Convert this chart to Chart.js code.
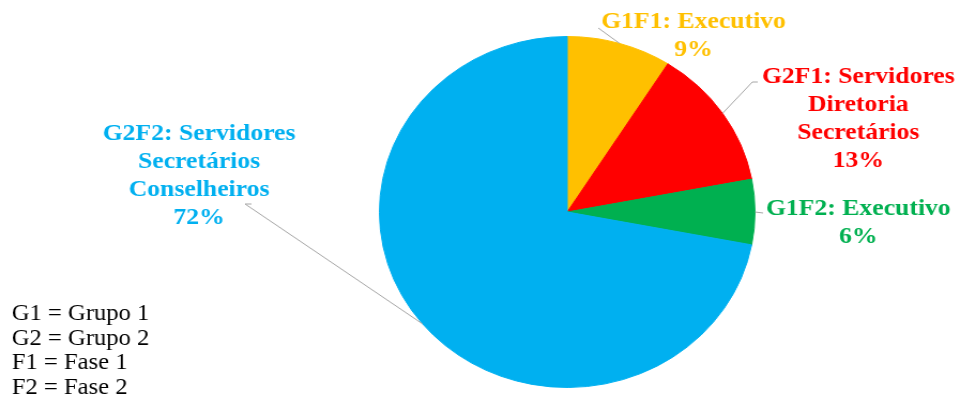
<!DOCTYPE html>
<html>
<head>
<meta charset="utf-8">
<script src="https://cdn.jsdelivr.net/npm/chart.js@4"></script>
<style>
  html, body { margin: 0; padding: 0; background: #fff; overflow: hidden; }
  /* the original picture is stretched a little sideways, so is ours */
  #wrap { position: absolute; left: 0; top: 0; width: 897px; height: 401px;
          transform: scaleX(1.0702); transform-origin: 0 0; }
</style>
</head>
<body>
<div id="wrap"><canvas id="myChart"></canvas></div>
<script>
/* Data */
const categories = ['G1F1: Executivo', 'G2F1: Servidores Diretoria Secretários', 'G1F2: Executivo', 'G2F2: Servidores Secretários Conselheiros'];
const labelLines = [
  ['G1F1: Executivo'],
  ['G2F1: Servidores', 'Diretoria', 'Secretários'],
  ['G1F2: Executivo'],
  ['G2F2: Servidores', 'Secretários', 'Conselheiros'],
];
const shares = [9, 13, 6, 72];
const notes = ['G1 = Grupo 1', 'G2 = Grupo 2', 'F1 = Fase 1', 'F2 = Fase 2'];

/* Colors */
let colorYellow = '#FFC000';
let colorRed = '#FF0000';
let colorGreen = '#00B050';
let colorBlue = '#00B0F0';
const sliceColors = [colorYellow, colorRed, colorGreen, colorBlue];

// where each data label sits (center x, first baseline) and where its leader line starts
const labelPlace = [
  { x: 648, y: 28, lead: [[559, 28]] },
  { x: 802, y: 83, lead: [[708, 82], [703, 82]] },
  { x: 802, y: 215, lead: [[713, 213]] },
  { x: 186, y: 140, lead: [[235, 204], [229, 204]] },
];

const pieLabels = {
  id: 'pieLabels',
  afterDraw(chart) {
    const ctx = chart.ctx;
    const arcs = chart.getDatasetMeta(0).data;
    const total = shares.reduce((a, b) => a + b, 0);
    ctx.save();
    arcs.forEach((arc, i) => {
      const p = labelPlace[i];
      const mid = (arc.startAngle + arc.endAngle) / 2;
      const ex = arc.x + Math.cos(mid) * arc.outerRadius;
      const ey = arc.y + Math.sin(mid) * arc.outerRadius;
      ctx.strokeStyle = '#A6A6A6';
      ctx.lineWidth = 1;
      ctx.beginPath();
      ctx.moveTo(p.lead[0][0], p.lead[0][1]);
      p.lead.slice(1).forEach(q => ctx.lineTo(q[0], q[1]));
      ctx.lineTo(ex, ey);
      ctx.stroke();

      ctx.fillStyle = sliceColors[i];
      ctx.font = 'bold 24px "Liberation Serif", serif';
      ctx.textAlign = 'center';
      ctx.textBaseline = 'alphabetic';
      const lines = labelLines[i].concat([Math.round(shares[i] / total * 100) + '%']);
      lines.forEach((t, k) => ctx.fillText(t, p.x, p.y + k * 28));
    });

    ctx.fillStyle = '#000';
    ctx.font = '23px "Liberation Serif", serif';
    ctx.textAlign = 'left';
    notes.forEach((t, k) => ctx.fillText(t, 11, 320 + k * 24.7));
    ctx.restore();
  },
};

const data = {
  labels: categories,
  datasets: [
    {
      data: shares,
      backgroundColor: sliceColors,
      borderColor: sliceColors,
      borderWidth: 1,
    },
  ],
};

const chartConfig = {
  type: 'pie',
  data,
  options: {
    responsive: true,
    maintainAspectRatio: false,
    animation: false,
    layout: { padding: { left: 354, right: 191, top: 36, bottom: 13 } },
    plugins: {
      legend: { display: false },
      tooltip: { enabled: false },
    },
  },
  plugins: [pieLabels],
};

const ctx = document.getElementById('myChart').getContext('2d');
const myChart = new Chart(ctx, chartConfig);
</script>
</body>
</html>
